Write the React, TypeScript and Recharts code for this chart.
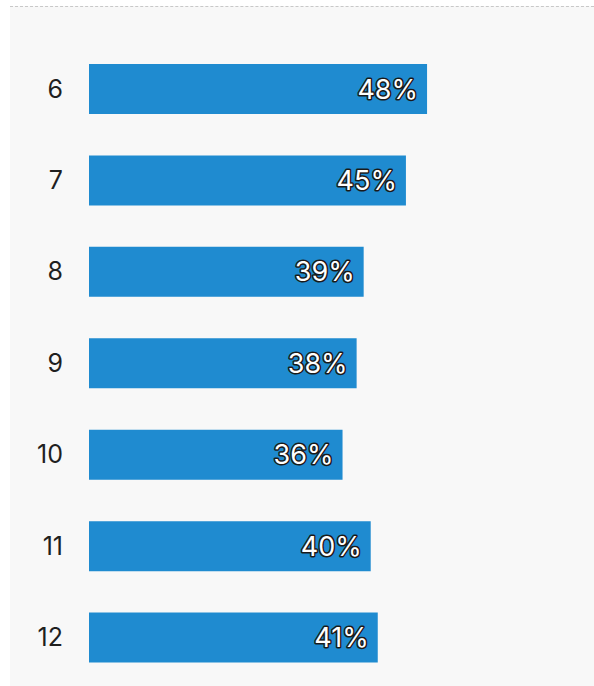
import React from "react";
import { BarChart, Bar, XAxis, YAxis, LabelList } from "recharts";

const grades = ["6", "7", "8", "9", "10", "11", "12"];
const shares = [48, 45, 39, 38, 36, 40, 41];

const data = grades.map((g, i) => ({ grade: g, share: shares[i] }));

const FONT = "Inter, 'Open Sans', sans-serif";

function OutlinedLabel(props: any) {
  const { x, y, width, height, value } = props;
  return (
    <text
      x={x + width - 9}
      y={y + height / 2}
      textAnchor="end"
      dominantBaseline="central"
      fontFamily={FONT}
      fontSize={27}
      fontWeight={400}
      fill="#ffffff"
      stroke="#1a1a1a"
      strokeWidth={3}
      strokeLinejoin="round"
      style={{ paintOrder: "stroke" }}
    >
      {value}%
    </text>
  );
}

export default function App() {
  return (
    <div
      style={{
        position: "fixed",
        left: 0,
        top: 0,
        width: 594,
        height: 686,
        background: "#ffffff",
        overflow: "hidden",
      }}
    >
      <div
        style={{
          position: "absolute",
          left: 10,
          top: 6,
          width: 584,
          height: 680,
          background: "#f8f8f8",
          borderTop: "1px dashed #c8c8c8",
        }}
      />
      <div style={{ position: "absolute", left: 0, top: 0 }}>
        <BarChart
          width={594}
          height={686}
          data={data}
          layout="vertical"
          margin={{ top: 43, right: 12, bottom: 3, left: 19 }}
          barSize={50}
        >
          <XAxis type="number" domain={[0, 70]} hide />
          <YAxis
            type="category"
            dataKey="grade"
            width={70}
            axisLine={false}
            tickLine={false}
            tickSize={0}
            tickMargin={26}
            tick={{ fill: "#1f1f1f", fontSize: 25, fontFamily: FONT }}
          />
          <Bar dataKey="share" fill="#1f8bd0" isAnimationActive={false}>
            <LabelList dataKey="share" content={<OutlinedLabel />} />
          </Bar>
        </BarChart>
      </div>
    </div>
  );
}
